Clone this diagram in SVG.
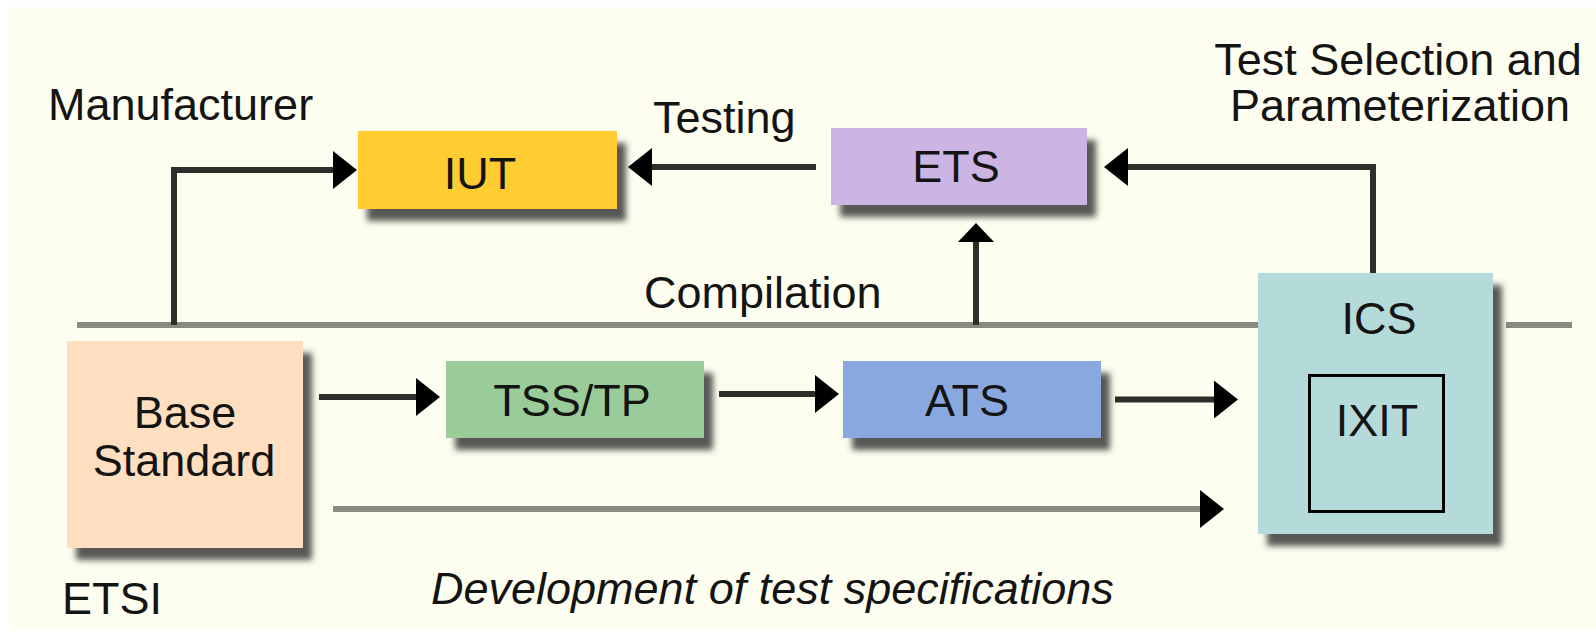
<svg xmlns="http://www.w3.org/2000/svg" width="1596" height="632" viewBox="0 0 1596 632">
<defs>
<style>
.t{font-family:"Liberation Sans",Arial,sans-serif;font-size:45px;fill:#141414}
.c{text-anchor:middle}
.box{filter:url(#sh)}
.dk{fill:none;stroke:#2e2e2b;stroke-width:6}
.gr{fill:none;stroke:#8a8a80;stroke-width:6}
.ah{fill:#000}
</style>
<filter id="sh" x="-10%" y="-10%" width="130%" height="140%">
<feDropShadow dx="9" dy="12" stdDeviation="3" flood-color="#3a3a3a" flood-opacity="0.85"/>
</filter>
<marker id="mh" markerUnits="userSpaceOnUse" markerWidth="24" markerHeight="38" viewBox="0 0 24 38" refX="0" refY="19" orient="auto"><path class="ah" d="M0,0 L24,19 L0,38 Z"/></marker>
<marker id="mv" markerUnits="userSpaceOnUse" markerWidth="19" markerHeight="36" viewBox="0 0 19 36" refX="0" refY="18" orient="auto"><path class="ah" d="M0,0 L19,18 L0,36 Z"/></marker>
</defs>
<rect width="1596" height="632" fill="#ffffff"/>
<rect x="9" y="7" width="1587" height="623" fill="#fefef0"/>

<g id="labels">
<text class="t" x="48" y="120">Manufacturer</text>
<text class="t" x="653" y="133">Testing</text>
<text class="t" x="644" y="308">Compilation</text>
<text class="t c" x="1398" y="75">Test Selection and</text>
<text class="t c" x="1400" y="121">Parameterization</text>
<text class="t" x="62" y="614">ETSI</text>
<text class="t" x="431" y="604" font-style="italic">Development of test specifications</text>
</g>

<g id="backbone">
<path class="gr" d="M77,325 H1258 M1506,325 H1572"/>
</g>

<g id="node-iut">
<rect class="box" x="358" y="131" width="259" height="78" fill="#ffcc33"/>
<text class="t c" x="480" y="189">IUT</text>
</g>
<g id="node-ets">
<rect class="box" x="831" y="128" width="256" height="77" fill="#cdb5e3"/>
<text class="t c" x="956" y="182">ETS</text>
</g>
<g id="node-base">
<rect class="box" x="67" y="341" width="236" height="207" fill="#ffdfc0"/>
<text class="t c" x="185" y="428">Base</text>
<text class="t c" x="184" y="476">Standard</text>
</g>
<g id="node-tss">
<rect class="box" x="446" y="361" width="258" height="77" fill="#99cc99"/>
<text class="t c" x="572" y="416">TSS/TP</text>
</g>
<g id="node-ats">
<rect class="box" x="843" y="361" width="258" height="77" fill="#8aa8e0"/>
<text class="t c" x="967" y="416">ATS</text>
</g>
<g id="node-ics">
<rect class="box" x="1258" y="273" width="235" height="261" fill="#b5dada"/>
<text class="t c" x="1379" y="334">ICS</text>
<rect x="1309.5" y="375.5" width="134" height="136" fill="none" stroke="#000" stroke-width="3"/>
<text class="t c" x="1377" y="436">IXIT</text>
</g>

<g id="connectors">
<path class="dk" d="M174,325 V170 H333" marker-end="url(#mh)"/>
<path class="dk" d="M816,167 H652" marker-end="url(#mh)"/>
<path class="dk" d="M1373,273 V167 H1128" marker-end="url(#mh)"/>
<path class="dk" d="M976,325 V242" marker-end="url(#mv)"/>
<path class="dk" d="M319,397 H416" marker-end="url(#mh)"/>
<path class="dk" d="M719,394 H815" marker-end="url(#mh)"/>
<path class="dk" d="M1115,399.5 H1214" marker-end="url(#mh)"/>
<path class="gr" d="M333,509 H1200" marker-end="url(#mh)"/>
</g>
</svg>
